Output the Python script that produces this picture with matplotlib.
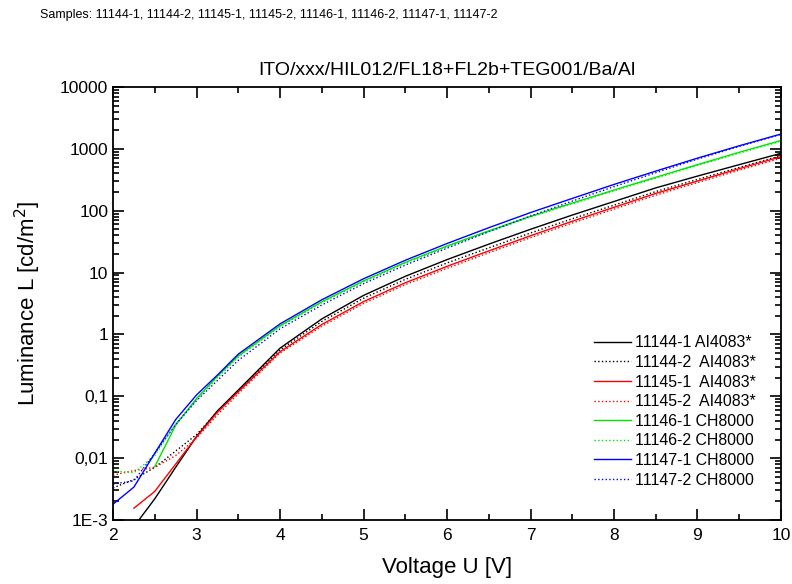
import numpy as np
import matplotlib
matplotlib.use('Agg')
import matplotlib.pyplot as plt
from matplotlib.ticker import FixedLocator, FixedFormatter, MultipleLocator, LogLocator, NullFormatter

plt.rcParams['font.family'] = ['Liberation Sans', 'DejaVu Sans']

# Spannung (V)
V = [2, 2.25, 2.5, 2.75, 3, 3.25, 3.5, 4, 4.5, 5, 5.5, 6, 6.5, 7, 7.5, 8, 8.5, 9, 9.5, 10]

# Leuchtdichte (cd/m2), None = kein Wert
L_11144_1 = [None, 0.00078, 0.0022, 0.0071, 0.0224, 0.058, 0.126, 0.60, 1.78, 4.27, 8.7, 16.2, 28.8, 50.1, 85.1, 141, 234, 363, 556, 847]
L_11144_2 = [0.0033, 0.0045, 0.0071, 0.013, 0.024, 0.057, 0.122, 0.562, 1.62, 3.85, 7.76, 14.3, 25.1, 43.7, 74.1, 123, 204, 320, 501, 776]
L_11145_1 = [None, 0.00155, 0.0029, 0.008, 0.022, 0.055, 0.118, 0.525, 1.445, 3.39, 6.84, 12.6, 22.4, 39.4, 67.6, 113.5, 190.5, 302, 479, 747]
L_11145_2 = [0.0053, 0.0063, 0.0071, 0.011, 0.021, 0.05, 0.11, 0.50, 1.35, 3.16, 6.38, 11.7, 20.9, 36.7, 63.1, 106, 178, 285, 452, 708]
L_11146_1 = [None, None, 0.0073, 0.034, 0.092, 0.21, 0.45, 1.38, 3.37, 7.33, 14.6, 26.9, 47.3, 81.3, 133, 216, 347, 556, 881, 1365]
L_11146_2 = [0.0062, 0.0058, 0.011, 0.036, 0.088, 0.2, 0.43, 1.34, 3.27, 7.1, 14.2, 26.1, 45.9, 79, 129, 210, 337, 540, 855, 1330]
L_11147_1 = [0.0018, 0.0034, 0.012, 0.042, 0.105, 0.22, 0.48, 1.48, 3.63, 7.94, 15.8, 29.5, 53.1, 93.3, 158, 266, 437, 708, 1122, 1738]
L_11147_2 = [0.0038, 0.0043, 0.012, 0.035, 0.085, 0.18, 0.38, 1.23, 2.99, 6.61, 13.2, 24.8, 45.7, 82.2, 143, 245, 412, 684, 1096, 1718]

namen = ['11144-1 AI4083*', '11144-2  AI4083*', '11145-1  AI4083*', '11145-2  AI4083*',
         '11146-1 CH8000', '11146-2 CH8000', '11147-1 CH8000', '11147-2 CH8000']
daten = [L_11144_1, L_11144_2, L_11145_1, L_11145_2, L_11146_1, L_11146_2, L_11147_1, L_11147_2]
farben = ['black', 'black', '#ff0000', '#ff0000', '#00e600', '#00e600', '#0000ff', '#0000ff']
stile = ['-', ':', '-', ':', '-', ':', '-', ':']

fig = plt.figure(figsize=(7.92, 5.84), dpi=100)
ax = fig.add_axes([0.1427, 0.1096, 0.8434, 0.7414])

for L, name, c, ls in zip(daten, namen, farben, stile):
    y = np.array([np.nan if v is None else v for v in L], dtype=float)
    ax.plot(V, y, color=c, linestyle=ls, linewidth=1.0, label=name)

ax.set_yscale('log')
ax.set_xlim(2, 10)
ax.set_ylim(1e-3, 1e4)

ax.xaxis.set_major_locator(MultipleLocator(1))
ax.xaxis.set_minor_locator(MultipleLocator(0.5))
yt = [1e-3, 1e-2, 1e-1, 1, 10, 100, 1000, 10000]
ax.yaxis.set_major_locator(FixedLocator(yt))
ax.yaxis.set_major_formatter(FixedFormatter(['1E-3', '0,01', '0,1', '1', '10', '100', '1000', '10000']))
ax.yaxis.set_minor_locator(LogLocator(base=10, subs=np.arange(2, 10), numticks=20))
ax.yaxis.set_minor_formatter(NullFormatter())

ax.tick_params(which='both', direction='in', top=True, right=True, labelsize=12.5, width=1.2)
ax.tick_params(which='major', length=8)
ax.tick_params(which='minor', length=4.5)
ax.tick_params(axis='x', pad=6)
for s in ax.spines.values():
    s.set_linewidth(1.3)

ax.set_xlabel('Voltage U [V]', fontsize=16, labelpad=10)
ax.set_ylabel('Luminance L [cd/m$^2$]', fontsize=16, labelpad=12)
ax.set_title('ITO/xxx/HIL012/FL18+FL2b+TEG001/Ba/Al', fontsize=14, pad=9)

fig.text(0.05, 0.985, 'Samples: 11144-1, 11144-2, 11145-1, 11145-2, 11146-1, 11146-2, 11147-1, 11147-2',
         fontsize=9, va='top', ha='left')

ax.legend(loc='lower right', bbox_to_anchor=(0.963, 0.075), frameon=False, fontsize=11.4,
          handlelength=2.35, labelspacing=0.29, handletextpad=0.25, borderaxespad=0.0,
          borderpad=0.0)

fig.savefig('out.png', dpi=100)
